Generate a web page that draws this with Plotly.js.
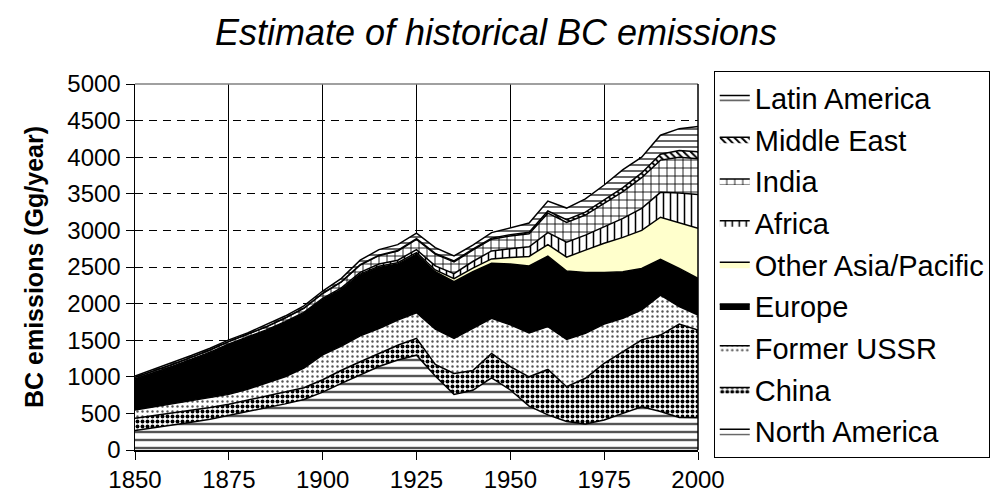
<!DOCTYPE html>
<html><head><meta charset="utf-8">
<script src="https://cdn.plot.ly/plotly-3.0.1.min.js"></script>
<style>html,body{margin:0;padding:0;background:#fff;}#chart{width:992px;height:500px;}</style>
</head><body><div id="chart"></div>
<script>
const years = [1850,1855,1860,1865,1870,1875,1880,1885,1890,1895,1900,1905,1910,1915,1920,1925,1930,1935,1940,1945,1950,1955,1960,1965,1970,1975,1980,1985,1990,1995,2000];
const northAmerica = [265,300,340,380,420,470,520,575,630,690,790,910,1025,1140,1230,1295,1010,760,815,985,820,600,480,390,355,410,500,590,525,445,440];
const china = [170,170,165,160,160,155,160,160,160,160,170,180,180,180,200,230,160,285,270,335,320,400,620,475,625,775,845,915,1045,1275,1200];
const formerUSSR = [110,120,125,130,135,135,150,175,210,270,340,330,355,340,345,350,480,480,575,480,570,600,585,645,615,535,455,410,545,240,205];
const europe = [420,460,505,560,610,675,695,715,735,740,750,765,830,835,765,800,785,775,775,750,830,915,965,935,830,705,635,565,490,520,500];
const otherAsia = [3,3,4,4,5,5,6,6,7,7,8,10,12,15,18,22,25,40,50,60,90,130,155,190,305,400,470,520,575,620,685];
const africa = [5,5,6,6,7,8,9,10,12,14,15,20,25,30,35,40,55,70,90,110,120,130,165,205,205,230,260,300,340,410,460];
const india = [20,22,24,27,30,33,37,42,48,55,65,80,100,115,125,140,160,160,155,160,175,180,265,270,275,320,365,420,440,490,490];
const middleEast = [2,2,2,2,3,3,3,3,4,4,4,5,6,7,8,10,10,12,13,15,15,20,30,35,40,45,55,65,80,90,95];
const latinAmerica = [15,18,19,21,20,20,20,24,24,30,30,45,60,75,80,75,80,68,57,75,90,125,135,160,180,200,245,215,260,300,345];
const seriesNames = ["North America","China","Former USSR","Europe","Other Asia/Pacific","Africa","India","Middle East","Latin America"];
const tickYears = [1850,1875,1900,1925,1950,1975,2000];

const seriesData = [northAmerica, china, formerUSSR, europe, otherAsia, africa, india, middleEast, latinAmerica];
const styles = [
  {fillcolor:'white', pat:{shape:'-', fgcolor:'#555555', bgcolor:'white', size:8, solidity:0.3}},
  {fillcolor:'white', pat:{shape:'.', fgcolor:'black', bgcolor:'white', size:5, solidity:0.5}},
  {fillcolor:'white', pat:{shape:'.', fgcolor:'#555555', bgcolor:'white', size:5, solidity:0.18}},
  {fillcolor:'black', pat:null},
  {fillcolor:'#FFFFCC', pat:null},
  {fillcolor:'white', pat:{shape:'|', fgcolor:'black', bgcolor:'white', size:7, solidity:0.22}},
  {fillcolor:'white', pat:{shape:'+', fgcolor:'black', bgcolor:'white', size:8, solidity:0.2}},
  {fillcolor:'white', pat:{shape:'\\', fgcolor:'black', bgcolor:'white', size:5, solidity:0.4}},
  {fillcolor:'white', pat:{shape:'-', fgcolor:'black', bgcolor:'white', size:6, solidity:0.2}}
];

const traces = seriesData.map((vals, i) => {
  const t = {
    x: years, y: vals, name: seriesNames[i], type: 'scatter', mode: 'lines',
    stackgroup: 'one', line: {color: 'black', width: 1.5},
    fillcolor: styles[i].fillcolor, hoverinfo: 'skip',
    legendgroup: 'g' + i, legendrank: seriesData.length - i
  };
  if (styles[i].pat) t.fillpattern = styles[i].pat;
  return t;
});

const font = 'Liberation Sans, Arial, sans-serif';
const layout = {
  width: 992, height: 500,
  margin: {l: 135, r: 294, t: 84, b: 50, autoexpand: false},
  paper_bgcolor: 'white', plot_bgcolor: 'white',
  title: {text: 'Estimate of historical BC emissions', font: {family: font, size: 36, color: 'black', style: 'italic'},
          x: 0.5, xref: 'container', xanchor: 'center', y: 0.935, yref: 'container', yanchor: 'middle'},
  xaxis: {range: [1850, 2000], tickvals: tickYears, ticktext: tickYears.map(String),
          showgrid: true, gridcolor: 'black', gridwidth: 1,
          showline: true, linecolor: 'black', linewidth: 1.5, ticks: 'outside', ticklen: 8, tickcolor: 'black',
          tickfont: {family: font, size: 24, color: 'black'}, zeroline: false, fixedrange: true},
  yaxis: {range: [0, 5000], dtick: 500, tick0: 0,
          showgrid: true, gridcolor: 'black', gridwidth: 1, griddash: '8px,6px',
          showline: true, linecolor: 'black', linewidth: 1.5, ticks: 'outside', ticklen: 8, tickcolor: 'black',
          tickfont: {family: font, size: 24, color: 'black'}, zeroline: false, fixedrange: true,
          title: {text: '<b>BC emissions (Gg/year)</b>', font: {family: font, size: 25, color: 'black'}, standoff: 16}},
  legend: {x: 1.028, xanchor: 'left', y: 1.035, yanchor: 'top', traceorder: 'grouped', tracegroupgap: 1,
           maxheight: 460,
           bordercolor: 'black', borderwidth: 1, bgcolor: 'white', itemwidth: 30,
           font: {family: font, size: 29, color: 'black'}},
  shapes: [
    {type: 'line', xref: 'paper', yref: 'paper', x0: 0, x1: 1, y0: 1, y1: 1, line: {color: '#808080', width: 1.5}},
    {type: 'line', xref: 'paper', yref: 'paper', x0: 1, x1: 1, y0: 0, y1: 1, line: {color: 'black', width: 1.5}}
  ],
  showlegend: true
};

Plotly.newPlot('chart', traces, layout, {displayModeBar: false, staticPlot: true});
</script>
</body></html>
